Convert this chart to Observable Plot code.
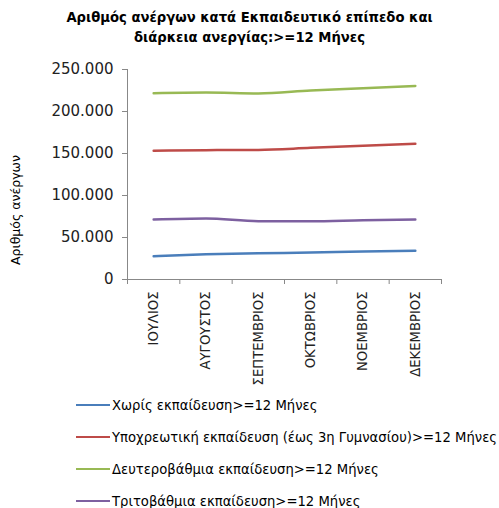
<!DOCTYPE html>
<html><head><meta charset="utf-8">
<script src="https://cdn.jsdelivr.net/npm/d3@7"></script>
<script src="https://cdn.jsdelivr.net/npm/@observablehq/plot@0.6"></script>
<style>
body{margin:0;background:#fff;font-family:"DejaVu Sans",sans-serif;}
#wrap{position:relative;width:499px;height:508px;overflow:hidden;}
#title{position:absolute;top:8px;left:0;width:499px;text-align:center;font-weight:bold;font-size:13.2px;line-height:20px;color:#000;}
#plot{position:absolute;top:50px;left:0;}
#ylab{position:absolute;left:15px;top:210px;transform:translate(-50%,-50%) rotate(-90deg);white-space:nowrap;font-size:12.5px;color:#000;}
#legend{position:absolute;top:389px;left:76px;font-size:13.2px;color:#000;}
.row{height:32px;display:flex;align-items:center;white-space:nowrap;}
.sw{width:34px;height:2px;margin-right:2px;}
</style></head><body>
<div id="wrap">
<div id="title"></div>
<div id="plot"></div>
<div id="ylab"></div>
<div id="legend"></div>
</div>
<script>
const titleLines = ["Αριθμός ανέργων κατά Εκπαιδευτικό επίπεδο και", "διάρκεια ανεργίας:>=12 Μήνες"];
const yLabel = "Αριθμός ανέργων";
const months = ["ΙΟΥΛΙΟΣ","ΑΥΓΟΥΣΤΟΣ","ΣΕΠΤΕΜΒΡΙΟΣ","ΟΚΤΩΒΡΙΟΣ","ΝΟΕΜΒΡΙΟΣ","ΔΕΚΕΜΒΡΙΟΣ"];
const seriesNames = [
  "Χωρίς εκπαίδευση>=12 Μήνες",
  "Υποχρεωτική εκπαίδευση (έως 3η Γυμνασίου)>=12 Μήνες",
  "Δευτεροβάθμια εκπαίδευση>=12 Μήνες",
  "Τριτοβάθμια εκπαίδευση>=12 Μήνες"
];
const colors = ["#4A7EBB","#BE4B48","#98B954","#7D60A0"];
const noEducation = [27800, 30000, 31200, 32100, 33300, 34100];
const compulsory  = [153200, 154000, 154300, 156700, 159100, 161500];
const secondary   = [221800, 222500, 221400, 225000, 227700, 230500];
const tertiary    = [71400, 72600, 69400, 69400, 70600, 71400];
const yTicks = [0, 50000, 100000, 150000, 200000, 250000];

const seriesValues = [noEducation, compulsory, secondary, tertiary];
const data = seriesValues.flatMap((vals, s) => vals.map((v, i) => ({series: seriesNames[s], idx: i + 0.5, value: v})));

document.getElementById("title").innerHTML = titleLines.join("<br>");
document.getElementById("ylab").textContent = yLabel;
const fmt = d => d3.format(",")(d).replace(/,/g, ".");

const chart = Plot.plot({
  width: 499, height: 345,
  marginLeft: 127, marginRight: 58, marginTop: 19, marginBottom: 116,
  style: {fontFamily: "DejaVu Sans, sans-serif", fontSize: "13px", color: "#000", background: "transparent"},
  x: {type: "linear", domain: [0, months.length]},
  y: {domain: [0, 250000]},
  color: {domain: seriesNames, range: colors},
  marks: [
    Plot.axisY({ticks: yTicks, tickFormat: fmt, tickSize: 5, tickPadding: 9, label: null, stroke: "#888", fontSize: 15, fill: "#222"}),
    Plot.axisX({ticks: d3.range(months.length + 1), tickFormat: () => "", tickSize: 5, label: null, stroke: "#888"}),
    Plot.axisX({ticks: months.map((m, i) => i + 0.5), tickFormat: d => months[Math.round(d - 0.5)], tickSize: 0, tickPadding: 12, tickRotate: -90, label: null, fontSize: 13.2, fill: "#222"}),
    Plot.ruleY([0], {stroke: "#888"}),
    Plot.ruleX([0], {stroke: "#888"}),
    Plot.line(data, {x: "idx", y: "value", stroke: "series", strokeWidth: 2.5, curve: "monotone-x"})
  ]
});
document.getElementById("plot").appendChild(chart);

const leg = document.getElementById("legend");
seriesNames.forEach((n, i) => {
  const r = document.createElement("div"); r.className = "row";
  r.innerHTML = `<div class="sw" style="background:${colors[i]}"></div><span>${n}</span>`;
  leg.appendChild(r);
});
</script>
</body></html>
